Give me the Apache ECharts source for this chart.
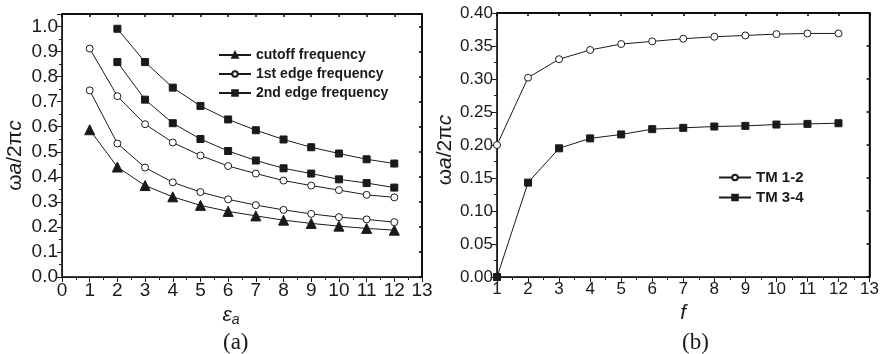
<!DOCTYPE html>
<html><head><meta charset="utf-8">
<script src="https://cdn.jsdelivr.net/npm/echarts@6/dist/echarts.min.js"></script>
<style>html,body{margin:0;padding:0;background:#fff}#c{width:882px;height:354px}</style>
</head><body><div id="c"></div>
<script>
// ---- Panel (a) data ----
const epsA = [1,2,3,4,5,6,7,8,9,10,11,12];
const cutoff     = [0.588,0.439,0.365,0.320,0.286,0.262,0.244,0.227,0.214,0.203,0.194,0.187];
const edge1Upper = [0.912,0.722,0.610,0.537,0.485,0.443,0.413,0.385,0.365,0.347,0.328,0.318];
const edge1Lower = [0.745,0.533,0.437,0.378,0.339,0.310,0.287,0.268,0.252,0.239,0.230,0.219];
const epsA2 = [2,3,4,5,6,7,8,9,10,11,12];
const edge2Upper = [0.991,0.858,0.756,0.683,0.629,0.586,0.549,0.518,0.493,0.470,0.453];
const edge2Lower = [0.858,0.708,0.614,0.551,0.503,0.465,0.434,0.413,0.390,0.375,0.357];
// ---- Panel (b) data ----
const fVals = [1,2,3,4,5,6,7,8,9,10,11,12];
const tm12 = [0.200,0.302,0.330,0.344,0.353,0.357,0.361,0.364,0.366,0.368,0.369,0.369];
const tm34 = [0.000,0.143,0.195,0.210,0.216,0.224,0.226,0.228,0.229,0.231,0.232,0.233];

const names = ['cutoff frequency','1st edge frequency','2nd edge frequency'];
const namesB = ['TM 1-2','TM 3-4'];

const INK = '#1a1a1a';
const FRAME = '#000';
const pairs = (xs, ys) => xs.map((x,i)=>[x, ys[i]]);
const FONT = "'Liberation Sans', Arial, sans-serif";
const SERIF = "'Liberation Serif', 'Times New Roman', serif";

function mainX(gi, min, max, size, nameRich, nameText, pad){
  return {type:'value', gridIndex:gi, min:min, max:max, interval:1, position:'bottom',
    axisLine:{show:true, onZero:false, lineStyle:{color:INK, width:1}},
    axisTick:{show:true, inside:false, length:5, lineStyle:{color:INK}},
    minorTick:{show:true, splitNumber:2, length:3, lineStyle:{color:INK}},
    splitLine:{show:false},
    axisLabel:{color:INK, fontSize:size, fontFamily:FONT, margin:4},
    name:nameText, nameLocation:'middle', nameGap:24,
    nameTextStyle:{color:INK, fontSize:21, fontFamily:FONT, fontStyle:'italic', padding:pad, rich:nameRich}
  };
}
function frameX(gi, min, max){
  return {type:'value', gridIndex:gi, min:min, max:max, interval:1, position:'top',
    axisLine:{show:true, onZero:false, lineStyle:{color:FRAME, width:1.5}},
    axisTick:{show:true, inside:true, length:3, lineStyle:{color:FRAME, width:1.5}},
    splitLine:{show:false}, axisLabel:{show:false}};
}
function mainY(gi, min, max, interval, size, fmt, gap, pad){
  return {type:'value', gridIndex:gi, min:min, max:max, interval:interval, position:'left',
    axisLine:{show:true, onZero:false, lineStyle:{color:INK, width:1}},
    axisTick:{show:true, inside:false, length:5, lineStyle:{color:INK}},
    minorTick:{show:true, splitNumber:2, length:3, lineStyle:{color:INK}},
    splitLine:{show:false},
    axisLabel:{color:INK, fontSize:size, fontFamily:FONT, margin:4, formatter:fmt},
    name:'{w|ω}{i|a}{w|/2π}{i|c}', nameLocation:'middle', nameGap:gap,
    nameTextStyle:{color:INK, fontSize:21, fontFamily:FONT, padding:pad,
      rich:{w:{fontSize:21, fontFamily:FONT, color:INK}, i:{fontSize:21, fontFamily:FONT, fontStyle:'italic', color:INK}}}
  };
}
function frameY(gi, min, max, interval){
  return {type:'value', gridIndex:gi, min:min, max:max, interval:interval, position:'right',
    axisLine:{show:true, onZero:false, lineStyle:{color:FRAME, width:1.5}},
    axisTick:{show:true, inside:true, length:3, lineStyle:{color:FRAME, width:1.5}},
    splitLine:{show:false}, axisLabel:{show:false}};
}
function line(name, data, xi, yi, sym, size, hollow){
  return {type:'line', name:name, data:data, xAxisIndex:xi, yAxisIndex:yi,
    symbol:sym, symbolSize:size, showAllSymbol:true,
    lineStyle:{color:INK, width:1},
    itemStyle:{color: hollow ? '#fff' : INK, borderColor:INK, borderWidth:1}};
}

const option = {
  animation:false,
  grid:[
    {left:62, top:14, width:360, height:263, show:true, borderColor:FRAME, borderWidth:1.5},
    {left:497, top:13, width:378, height:264, show:true, borderColor:FRAME, borderWidth:1.5}
  ],
  xAxis:[
    mainX(0, 0, 13, 19, {e:{fontSize:21,fontFamily:FONT,fontStyle:'italic',color:INK}, s:{fontSize:14,fontFamily:FONT,fontStyle:'italic',color:INK, padding:[10,0,0,0]}}, '{e|ε}{s|a}', [0,22,0,0]),
    frameX(0, 0, 13),
    mainX(1, 1, 13, 17, {}, 'f', [0,0,0,0]),
    frameX(1, 1, 13)
  ],
  yAxis:[
    mainY(0, 0, 1.05, 0.1, 19, v => v > 1.001 ? '' : v.toFixed(1), 36, [0,20,0,0]),
    frameY(0, 0, 1.05, 0.1),
    mainY(1, 0, 0.4, 0.05, 17, v => v.toFixed(2), 40, [0,10,0,0]),
    frameY(1, 0, 0.4, 0.05)
  ],
  legend:[
    {data:names, orient:'vertical', left:213, top:43, itemWidth:32, itemHeight:7, itemGap:5,
     textStyle:{color:INK, fontSize:14, fontWeight:'bold', fontFamily:FONT}, selectedMode:false},
    {data:namesB, orient:'vertical', left:713, top:165, itemWidth:32, itemHeight:7, itemGap:5,
     textStyle:{color:INK, fontSize:15, fontWeight:'bold', fontFamily:FONT}, selectedMode:false}
  ],
  title:[
    {text:'(a)', left:218, top:326, textStyle:{fontFamily:SERIF, fontSize:23, fontWeight:'normal', color:INK}},
    {text:'(b)', left:677, top:326, textStyle:{fontFamily:SERIF, fontSize:23, fontWeight:'normal', color:INK}}
  ],
  series:[
    line(names[0], pairs(epsA, cutoff), 0, 0, 'triangle', 10, false),
    line(names[1], pairs(epsA, edge1Upper), 0, 0, 'circle', 7, true),
    line(names[1], pairs(epsA, edge1Lower), 0, 0, 'circle', 7, true),
    line(names[2], pairs(epsA2, edge2Upper), 0, 0, 'rect', 7, false),
    line(names[2], pairs(epsA2, edge2Lower), 0, 0, 'rect', 7, false),
    line(namesB[0], pairs(fVals, tm12), 2, 2, 'circle', 7, true),
    line(namesB[1], pairs(fVals, tm34), 2, 2, 'rect', 7, false)
  ]
};
const chart = echarts.init(document.getElementById('c'));
chart.setOption(option);
</script>
</body></html>
